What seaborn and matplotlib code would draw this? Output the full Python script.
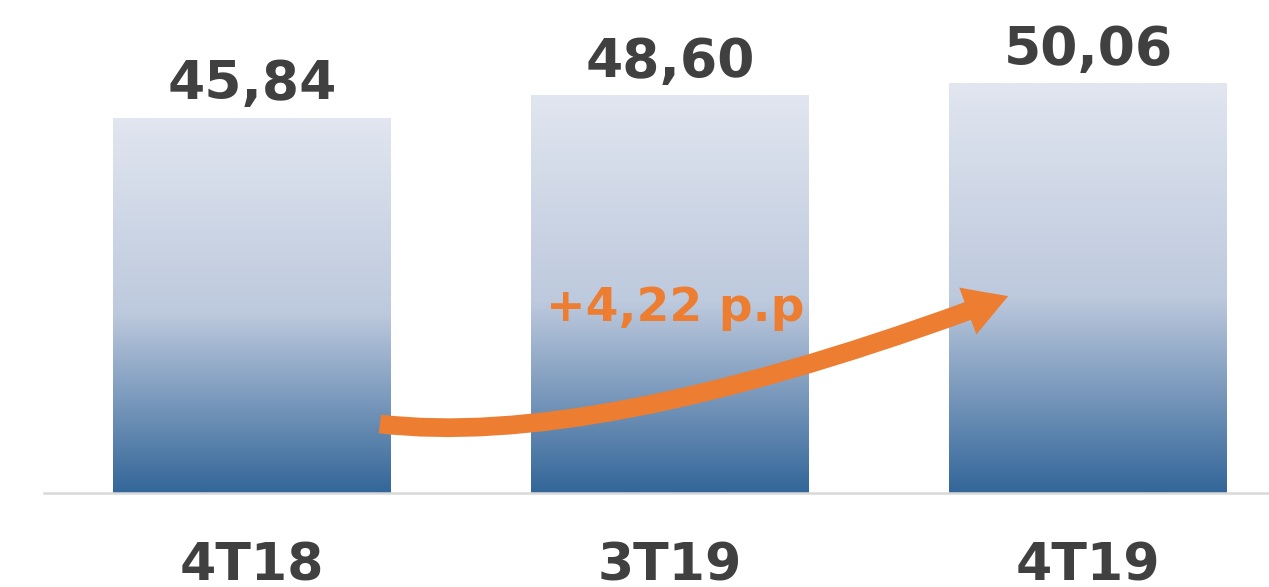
import matplotlib
matplotlib.use('Agg')
import matplotlib.pyplot as plt
import seaborn as sns
import numpy as np
import pandas as pd
from matplotlib.colors import LinearSegmentedColormap
from matplotlib.patches import FancyArrowPatch
from matplotlib.path import Path

# Dados
periodos = ["4T18", "3T19", "4T19"]
valores = [45.84, 48.60, 50.06]

TEXT_COLOR = "#404040"
ORANGE = "#ED7D31"

df = pd.DataFrame({"periodo": periodos, "valor": valores})

sns.set_style("white")
plt.rcParams['font.family'] = ['DejaVu Sans']

fig = plt.figure(figsize=(12.69, 5.87), dpi=100)
ax = fig.add_axes([44 / 1269, 94 / 587, 1225 / 1269, 493 / 587])

sns.barplot(data=df, x="periodo", y="valor", width=0.665, color="#336699", ax=ax)

# Gradiente nas barras (claro em cima, azul escuro embaixo)
cmap = LinearSegmentedColormap.from_list(
    "grad", [(0.0, "#336699"), (0.48, "#BDC9DD"), (1.0, "#E1E6F0")])
grad = np.linspace(0, 1, 256).reshape(-1, 1)
for bar in ax.patches:
    x0 = bar.get_x()
    w = bar.get_width()
    h = bar.get_height()
    ax.imshow(grad, extent=[x0, x0 + w, 0, h], origin="lower", aspect="auto",
              cmap=cmap, zorder=2)
    bar.set_alpha(0)

ax.set_xlim(-0.4976, 2.433)
ax.set_ylim(0, 60.34)

# Rotulos de valor
for i, v in enumerate(valores):
    ax.annotate(f"{v:.2f}".replace(".", ","), (i, v), xytext=(0, 6),
                textcoords="offset points", ha="center", va="bottom",
                fontsize=38.5, fontweight="bold", color=TEXT_COLOR, zorder=5)

# Seta de variacao
delta = valores[-1] - valores[0]
curva = Path([(0.306, 8.45), (0.833, 5.26), (1.809, 24.1)],
             [Path.MOVETO, Path.CURVE3, Path.CURVE3])
seta = FancyArrowPatch(path=curva, transform=ax.transData,
                       arrowstyle="simple,tail_width=13.5,head_width=36,head_length=31",
                       mutation_scale=1, color=ORANGE, lw=0, zorder=4)
ax.add_patch(seta)
ax.text(1.012, 22.6, f"+{delta:.2f} p.p".replace(".", ",", 1), ha="center", va="center",
        fontsize=34, fontweight="bold", color=ORANGE, zorder=5)

# Eixos
sns.despine(ax=ax, left=True)
ax.spines["bottom"].set_color("#D9D9D9")
ax.spines["bottom"].set_linewidth(1.8)
ax.set_yticks([])
ax.set_xlabel("")
ax.set_ylabel("")
ax.tick_params(axis="x", length=0, pad=35, labelsize=37.5, labelcolor=TEXT_COLOR)
for lbl in ax.get_xticklabels():
    lbl.set_fontweight("bold")

plt.savefig("out.png", dpi=100)
plt.close()
